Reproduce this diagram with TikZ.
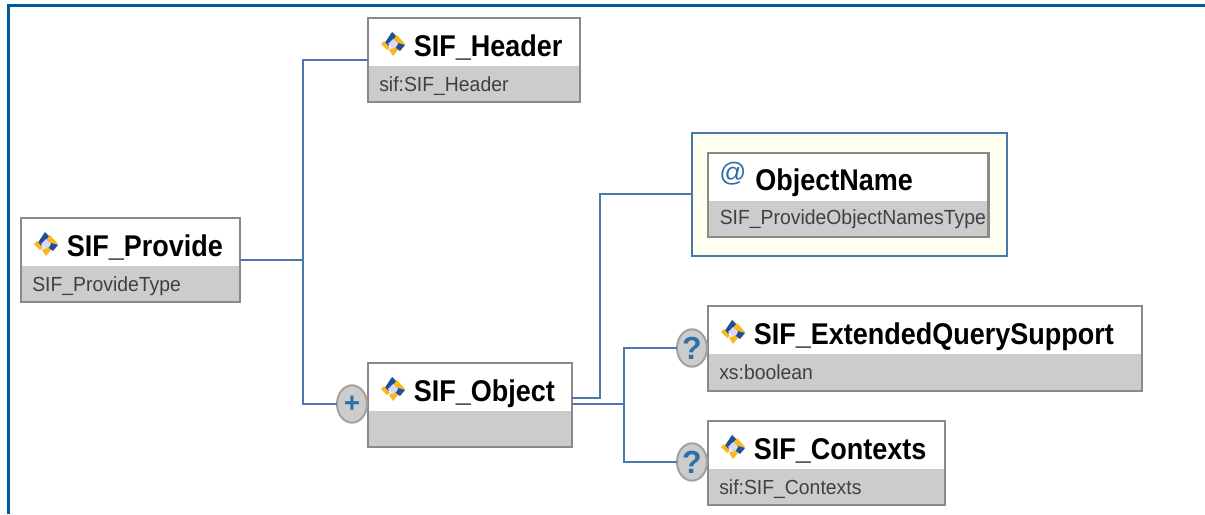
\documentclass[tikz,border=0pt]{standalone}
\usepackage{fontspec}
\setmainfont{Liberation Sans}
\newfontfamily\titlefont[FakeStretch=0.90]{Liberation Sans Bold}
\newfontfamily\typefont[FakeStretch=0.95]{Liberation Sans}
\usepackage{xcolor}
\usetikzlibrary{positioning}
\usetikzlibrary{shapes.geometric}
\definecolor{linkblue}{HTML}{4A78AD}
\definecolor{frameblue}{HTML}{005A9E}
\definecolor{boxgray}{HTML}{CCCCCC}
\definecolor{edgegray}{HTML}{8A8A8A}
\definecolor{markblue}{HTML}{2F6FA8}
\definecolor{attrcream}{HTML}{FFFFF0}
\definecolor{icondark}{HTML}{1F4E9C}
\definecolor{iconyellow}{HTML}{F5B921}
\tikzstyle{elembox}=[rectangle,draw=edgegray,fill=boxgray,line width=1.9pt,inner sep=0pt,outer sep=0pt,anchor=north west]
\tikzstyle{elemhead}=[rectangle,fill=white,inner sep=0pt,outer sep=0pt,anchor=north west]
\tikzstyle{elemtitle}=[font=\fontsize{22.5}{26}\titlefont,text=black,inner sep=0pt,anchor=base west]
\tikzstyle{elemtype}=[font=\fontsize{15.3}{18}\typefont,text=black!75,inner sep=0pt,anchor=base west]
\tikzstyle{attrbox}=[rectangle,draw=linkblue,fill=attrcream,line width=1.5pt,inner sep=0pt,outer sep=0pt,anchor=north west]
\tikzstyle{occur}=[ellipse,draw=edgegray!80,fill=boxgray,line width=1.5pt,inner sep=0pt,outer sep=0pt,minimum width=22.5pt,minimum height=28pt,text=markblue]
\tikzstyle{link}=[draw=linkblue,line width=1.5pt]
\tikzset{elemicon/.pic={
  \fill[icondark] (-1,-12) -- (4,-7) -- (-6,3) -- (-9,0) -- cycle;
  \fill[iconyellow] (4,-9) -- (12,0) -- (6,5) -- (0,-4) -- cycle;
  \fill[iconyellow] (-12,0) -- (-9,-3) -- (-3,4) -- (-6,6) -- cycle;
  \fill[iconyellow] (-4,6) -- (3,2) -- (5,6) -- (0,12) -- cycle;
  \fill[icondark] (5,-1) -- (12,1) -- (7,7) -- (3,4) -- cycle;
  \fill[blue!15] (0,-5) -- (5,0) -- (0,5) -- (-5,0) -- cycle;
}}

\begin{document}
\begin{tikzpicture}[x=0.75pt,y=-0.75pt]

  \useasboundingbox (0,0) rectangle (1205,514);
  \draw[frameblue,line width=2.6pt] (8.5,514) |- (1205,5.5);

  \node[attrbox,minimum width=236.5pt,minimum height=92.5pt] (attr) at (691.5,132.5) {};

  \foreach \x/\y/\w/\h/\s/\name/\title/\type in {
      21/218/219/84/47/provide/SIF\_Provide/SIF\_ProvideType,
      368/18/212/84/47/header/SIF\_Header/sif:SIF\_Header,
      368/363/204/84/47/object/SIF\_Object/{},
      708/306/434/85/47/extquery/SIF\_ExtendedQuerySupport/xs:boolean,
      708/421/237/84/47/contexts/SIF\_Contexts/sif:SIF\_Contexts}
  {
     \node[elembox,minimum width=\w*0.75pt,minimum height=\h*0.75pt] (\name) at (\x,\y) {};
     \node[elemhead,minimum width=\w*0.75pt-1.9pt,minimum height=\s*0.75pt] (\name-head) at (\x+1.2,\y+1.2) {};
     \pic at (\x+25,\y+26) {elemicon};
     \node[elemtitle] (\name-title) at (\x+45.5,\y+38) {\title};
     \node[elemtype] (\name-type) at (\x+11,\y+73) {\type};
  }

  \node[elembox,minimum width=210.5pt,minimum height=63pt] (objname) at (708,153) {};
  \node[elemhead,minimum width=208.6pt,minimum height=35pt] (objname-head) at (709.2,154.2) {};
  \node[elemtitle] (objname-title) at (755,190) {ObjectName};
  \node[elemtype] (objname-type) at (719.5,224.5) {SIF\_ProvideObjectNamesType};
  \node[text=markblue,font=\fontsize{20}{24}\selectfont,inner sep=0pt] (objname-mark) at (733,174) {@};

  \foreach \x/\y/\name/\label/\size in {352/404/optobject/+/21, 692/348/optquery/?/24, 692/462/optcontexts/?/24}
     \node[occur,font=\fontsize{\size}{24}\selectfont\bfseries] (\name) at (\x,\y) {\label};

  \coordinate (jprovide) at (303,260);
  \coordinate (jattr) at (600,398);
  \coordinate (jquery) at (624,404);

  \path[link] (provide.east) -- (jprovide);
  \path[link] (jprovide) |- (header.west);
  \path[link] (jprovide) |- (optobject.west);
  \path[link] (object.east |- jattr) -- (jattr) |- (attr.west);
  \path[link] (object.east |- jquery) -- (jquery);
  \path[link] (jquery) |- (optquery.west);
  \path[link] (jquery) |- (optcontexts.west);

\end{tikzpicture}
\end{document}
